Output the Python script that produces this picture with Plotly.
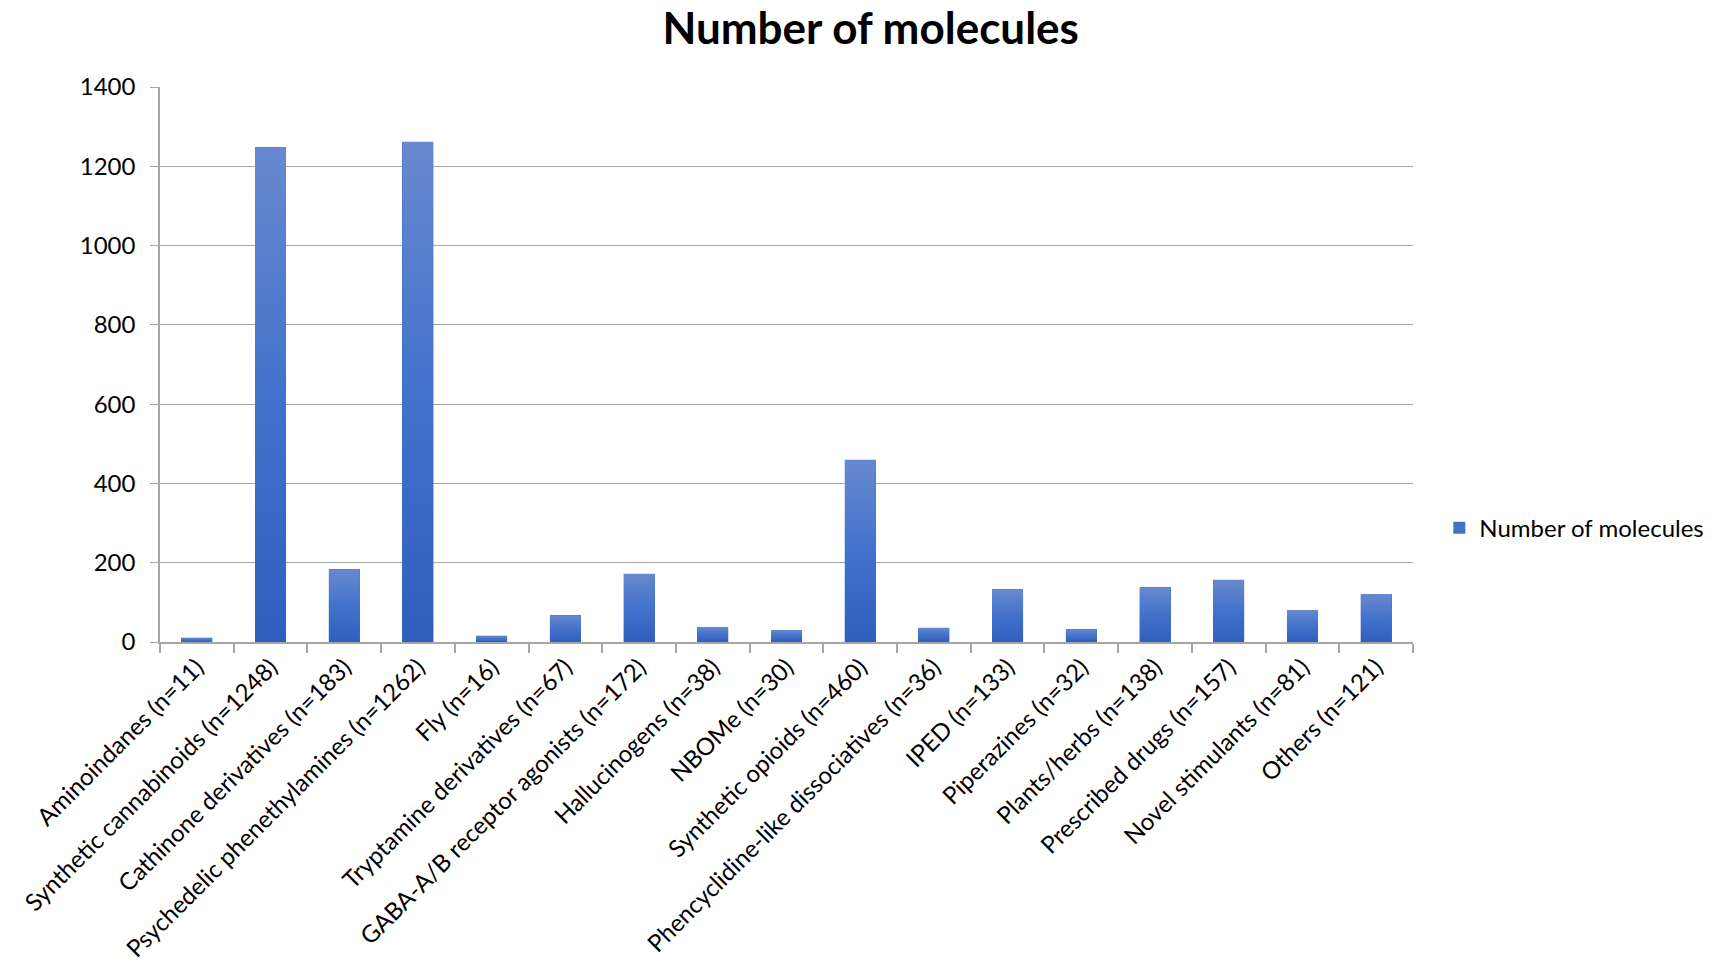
import plotly.graph_objects as go

categories = [
    "Aminoindanes (n=11)",
    "Synthetic cannabinoids (n=1248)",
    "Cathinone derivatives (n=183)",
    "Psychedelic phenethylamines (n=1262)",
    "Fly (n=16)",
    "Tryptamine derivatives (n=67)",
    "GABA-A/B receptor agonists (n=172)",
    "Hallucinogens (n=38)",
    "NBOMe (n=30)",
    "Synthetic opioids (n=460)",
    "Phencyclidine-like dissociatives (n=36)",
    "IPED (n=133)",
    "Piperazines (n=32)",
    "Plants/herbs (n=138)",
    "Prescribed drugs (n=157)",
    "Novel stimulants (n=81)",
    "Others (n=121)",
]
counts = [11, 1248, 183, 1262, 16, 67, 172, 38, 30, 460, 36, 133, 32, 138, 157, 81, 121]
y_ticks = [0, 200, 400, 600, 800, 1000, 1200, 1400]

FONT = "Lato, 'Open Sans', sans-serif"
GRID = "#a6a6a6"
BAR_W = 0.42
positions = list(range(len(categories)))

fig = go.Figure()

# base bars (also provide the legend entry)
fig.add_trace(go.Bar(
    x=positions, y=counts, width=BAR_W,
    marker=dict(color="#4472c4", line=dict(width=0)),
    name="Number of molecules", showlegend=True,
))

# vertical gradient shading laid over each bar
for i, v in zip(positions, counts):
    x0, x1 = i - BAR_W / 2, i + BAR_W / 2
    fig.add_trace(go.Scatter(
        x=[x0, x0, x1, x1, x0], y=[0, v, v, 0, 0],
        mode="lines", fill="toself", line=dict(width=0),
        fillgradient=dict(type="vertical",
                          colorscale=[[0, "#2f5fbd"], [0.5, "#4372cc"], [1, "#6889cf"]]),
        hoverinfo="skip", showlegend=False,
    ))

fig.update_layout(
    width=1714, height=979,
    paper_bgcolor="white", plot_bgcolor="white",
    margin=dict(l=160, r=301, t=87, b=337, autoexpand=False),
    font=dict(family=FONT, color="black"),
    title=dict(text="<b>Number of molecules</b>", x=0.508, xanchor="center",
               y=1 - 29 / 979, yanchor="middle", yref="container",
               font=dict(size=44, family=FONT, color="black")),
    legend=dict(x=1.021, y=0.205, xanchor="left", yanchor="middle",
                font=dict(size=24, family=FONT), bgcolor="rgba(0,0,0,0)",
                itemwidth=30, borderwidth=0),
    bargap=0,
)

fig.update_xaxes(
    range=[-0.5, len(categories) - 0.5],
    tickvals=positions, ticktext=categories, tickangle=-45,
    ticks="", showgrid=False, zeroline=False,
    showline=True, linecolor=GRID, linewidth=1.5,
    ticklabelstandoff=0,
    tickfont=dict(size=24, family=FONT, color="black"),
    minor=dict(ticks="outside", tick0=-0.5, dtick=1, ticklen=9,
               tickcolor=GRID, tickwidth=1.5, showgrid=False),
)

fig.update_yaxes(
    range=[0, 1400], tickvals=y_ticks,
    showgrid=True, gridcolor=GRID, gridwidth=1.2,
    zeroline=False, showline=True, linecolor=GRID, linewidth=1.5,
    ticks="outside", ticklen=8, tickcolor=GRID, tickwidth=1.2,
    ticklabelstandoff=10,
    tickfont=dict(size=24, family=FONT, color="black"),
)

fig.write_html("out.html")
